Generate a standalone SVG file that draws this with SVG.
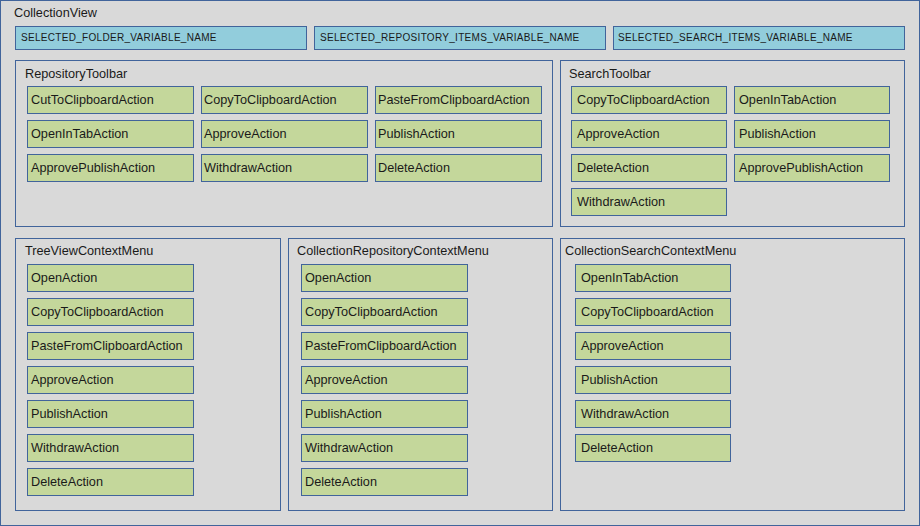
<svg xmlns="http://www.w3.org/2000/svg" width="920" height="526" viewBox="0 0 920 526">
<style>
.cont{fill:#d9d9d9;stroke:#41649b;stroke-width:1}
.var{fill:#92cddc;stroke:#41649b;stroke-width:1}
.act{fill:#c4d79b;stroke:#41649b;stroke-width:1}
text{font-family:"Liberation Sans",Arial,sans-serif;fill:#1a1a1a}
.t{font-size:12.7px}
.v{font-size:10px;letter-spacing:0.3px}
</style>
<g id="CollectionView">
<rect class="cont" x="0.5" y="0.5" width="919" height="525"/>
<text class="t" x="14" y="17">CollectionView</text>
</g>
<g id="SELECTED_FOLDER_VARIABLE_NAME"><rect class="var" x="15.5" y="26.5" width="291" height="23"/><text class="v" x="21" y="41">SELECTED_FOLDER_VARIABLE_NAME</text></g>
<g id="SELECTED_REPOSITORY_ITEMS_VARIABLE_NAME"><rect class="var" x="314.5" y="26.5" width="291" height="23"/><text class="v" x="320" y="41">SELECTED_REPOSITORY_ITEMS_VARIABLE_NAME</text></g>
<g id="SELECTED_SEARCH_ITEMS_VARIABLE_NAME"><rect class="var" x="613.5" y="26.5" width="291" height="23"/><text class="v" x="618" y="41">SELECTED_SEARCH_ITEMS_VARIABLE_NAME</text></g>

<g id="RepositoryToolbar">
<rect class="cont" x="15.5" y="60.5" width="537" height="166"/>
<text class="t" x="25" y="78">RepositoryToolbar</text>
<g id="rt1"><rect class="act" x="27.5" y="86.5" width="166" height="27"/><text class="t" x="31" y="104">CutToClipboardAction</text></g>
<g id="rt2"><rect class="act" x="201.5" y="86.5" width="166" height="27"/><text class="t" x="204" y="104">CopyToClipboardAction</text></g>
<g id="rt3"><rect class="act" x="375.5" y="86.5" width="166" height="27"/><text class="t" x="378" y="104">PasteFromClipboardAction</text></g>
<g id="rt4"><rect class="act" x="27.5" y="120.5" width="166" height="27"/><text class="t" x="31" y="138">OpenInTabAction</text></g>
<g id="rt5"><rect class="act" x="201.5" y="120.5" width="166" height="27"/><text class="t" x="204" y="138">ApproveAction</text></g>
<g id="rt6"><rect class="act" x="375.5" y="120.5" width="166" height="27"/><text class="t" x="378" y="138">PublishAction</text></g>
<g id="rt7"><rect class="act" x="27.5" y="154.5" width="166" height="27"/><text class="t" x="31" y="172">ApprovePublishAction</text></g>
<g id="rt8"><rect class="act" x="201.5" y="154.5" width="166" height="27"/><text class="t" x="204" y="172">WithdrawAction</text></g>
<g id="rt9"><rect class="act" x="375.5" y="154.5" width="166" height="27"/><text class="t" x="378" y="172">DeleteAction</text></g>
</g>

<g id="SearchToolbar">
<rect class="cont" x="560.5" y="60.5" width="344" height="166"/>
<text class="t" x="569" y="78">SearchToolbar</text>
<g id="st1"><rect class="act" x="571.5" y="86.5" width="155" height="27"/><text class="t" x="577" y="104">CopyToClipboardAction</text></g>
<g id="st2"><rect class="act" x="734.5" y="86.5" width="155" height="27"/><text class="t" x="739" y="104">OpenInTabAction</text></g>
<g id="st3"><rect class="act" x="571.5" y="120.5" width="155" height="27"/><text class="t" x="577" y="138">ApproveAction</text></g>
<g id="st4"><rect class="act" x="734.5" y="120.5" width="155" height="27"/><text class="t" x="739" y="138">PublishAction</text></g>
<g id="st5"><rect class="act" x="571.5" y="154.5" width="155" height="27"/><text class="t" x="577" y="172">DeleteAction</text></g>
<g id="st6"><rect class="act" x="734.5" y="154.5" width="155" height="27"/><text class="t" x="739" y="172">ApprovePublishAction</text></g>
<g id="st7"><rect class="act" x="571.5" y="188.5" width="155" height="27"/><text class="t" x="577" y="206">WithdrawAction</text></g>
</g>

<g id="TreeViewContextMenu">
<rect class="cont" x="15.5" y="238.5" width="265" height="272"/>
<text class="t" x="25" y="255">TreeViewContextMenu</text>
<g id="tv1"><rect class="act" x="27.5" y="264.5" width="166" height="27"/><text class="t" x="31" y="282">OpenAction</text></g>
<g id="tv2"><rect class="act" x="27.5" y="298.5" width="166" height="27"/><text class="t" x="31" y="316">CopyToClipboardAction</text></g>
<g id="tv3"><rect class="act" x="27.5" y="332.5" width="166" height="27"/><text class="t" x="31" y="350">PasteFromClipboardAction</text></g>
<g id="tv4"><rect class="act" x="27.5" y="366.5" width="166" height="27"/><text class="t" x="31" y="384">ApproveAction</text></g>
<g id="tv5"><rect class="act" x="27.5" y="400.5" width="166" height="27"/><text class="t" x="31" y="418">PublishAction</text></g>
<g id="tv6"><rect class="act" x="27.5" y="434.5" width="166" height="27"/><text class="t" x="31" y="452">WithdrawAction</text></g>
<g id="tv7"><rect class="act" x="27.5" y="468.5" width="166" height="27"/><text class="t" x="31" y="486">DeleteAction</text></g>
</g>

<g id="CollectionRepositoryContextMenu">
<rect class="cont" x="288.5" y="238.5" width="264" height="272"/>
<text class="t" x="297" y="255">CollectionRepositoryContextMenu</text>
<g id="cr1"><rect class="act" x="301.5" y="264.5" width="166" height="27"/><text class="t" x="305" y="282">OpenAction</text></g>
<g id="cr2"><rect class="act" x="301.5" y="298.5" width="166" height="27"/><text class="t" x="305" y="316">CopyToClipboardAction</text></g>
<g id="cr3"><rect class="act" x="301.5" y="332.5" width="166" height="27"/><text class="t" x="305" y="350">PasteFromClipboardAction</text></g>
<g id="cr4"><rect class="act" x="301.5" y="366.5" width="166" height="27"/><text class="t" x="305" y="384">ApproveAction</text></g>
<g id="cr5"><rect class="act" x="301.5" y="400.5" width="166" height="27"/><text class="t" x="305" y="418">PublishAction</text></g>
<g id="cr6"><rect class="act" x="301.5" y="434.5" width="166" height="27"/><text class="t" x="305" y="452">WithdrawAction</text></g>
<g id="cr7"><rect class="act" x="301.5" y="468.5" width="166" height="27"/><text class="t" x="305" y="486">DeleteAction</text></g>
</g>

<g id="CollectionSearchContextMenu">
<rect class="cont" x="560.5" y="238.5" width="344" height="272"/>
<text class="t" x="565" y="255">CollectionSearchContextMenu</text>
<g id="cs1"><rect class="act" x="575.5" y="264.5" width="155" height="27"/><text class="t" x="581" y="282">OpenInTabAction</text></g>
<g id="cs2"><rect class="act" x="575.5" y="298.5" width="155" height="27"/><text class="t" x="581" y="316">CopyToClipboardAction</text></g>
<g id="cs3"><rect class="act" x="575.5" y="332.5" width="155" height="27"/><text class="t" x="581" y="350">ApproveAction</text></g>
<g id="cs4"><rect class="act" x="575.5" y="366.5" width="155" height="27"/><text class="t" x="581" y="384">PublishAction</text></g>
<g id="cs5"><rect class="act" x="575.5" y="400.5" width="155" height="27"/><text class="t" x="581" y="418">WithdrawAction</text></g>
<g id="cs6"><rect class="act" x="575.5" y="434.5" width="155" height="27"/><text class="t" x="581" y="452">DeleteAction</text></g>
</g>
<g id="connectors"/>
</svg>
